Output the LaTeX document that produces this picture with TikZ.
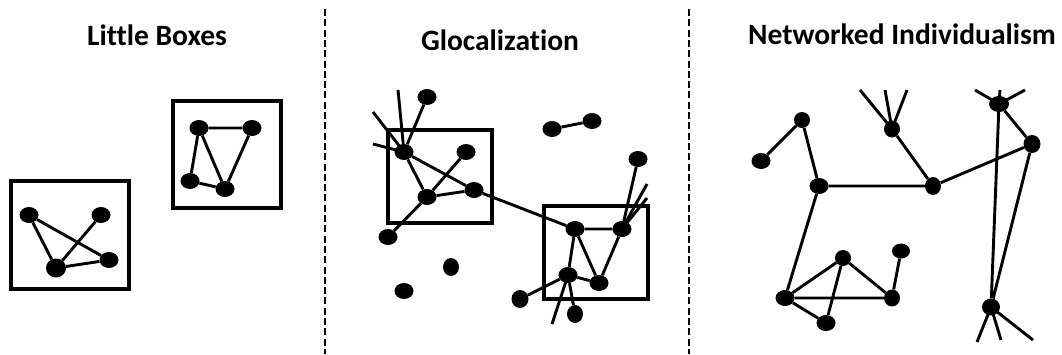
\documentclass[tikz,border=0pt]{standalone}
\usepackage{fontspec}
\setmainfont{Carlito}[Ligatures=NoCommon]
\usepackage{tikz}
\usetikzlibrary{shapes.geometric, positioning}
\tikzset{
    dotnode/.style = {draw=none, fill=black, ellipse, minimum width=19pt, minimum height=16pt, inner sep=0pt},
    boxnode/.style = {draw, rectangle, line width=3.3pt, inner sep=0pt, fill=none},
    titlenode/.style = {draw=none, fill=none, inner sep=0pt, anchor=base,
      font=\fontsize{29.5}{35}\selectfont\bfseries},
    connect/.style = {black, line width=2.9pt},
    divider/.style = {black, line width=2.2pt, dash pattern=on 7pt off 3.3pt}
}

\begin{document}
\begin{tikzpicture}[x=1pt, y=-1pt]
    \useasboundingbox (0,0) rectangle (1062,354);

    % titles and separators
    \node [name=tBoxes, titlenode] at (157,45) {Little Boxes};
    \node [name=tGlocal, titlenode] at (500,50) {Glocalization};
    \node [name=tNetInd, titlenode] at (902,44) {Networked Individualism};
    \coordinate (sepA top) at (325,9);   \coordinate (sepA bot) at (325,354);
    \coordinate (sepB top) at (689,9);   \coordinate (sepB bot) at (689,354);
    \draw [divider] (sepA top) -- (sepA bot);
    \draw [divider] (sepB top) -- (sepB bot);

    %% little boxes
    \node [name=boxL1, boxnode, minimum width=118pt, minimum height=108pt] at (70,235) {};
    \node [name=boxL2, boxnode, minimum width=108pt, minimum height=107pt] at (227,154.5) {};
    \node [name=a1, dotnode] at (29,215) {};
    \node [name=a2, dotnode] at (101,215) {};
    \node [name=a3, dotnode, minimum width=20pt, minimum height=19pt] at (56,268) {};
    \node [name=a4, dotnode] at (109,260) {};
    \node [name=b1, dotnode] at (199,128) {};
    \node [name=b2, dotnode] at (252,128) {};
    \node [name=b3, dotnode] at (190,181) {};
    \node [name=b4, dotnode] at (225,189) {};
    \draw [connect] (a1) -- (a3) -- (a4) -- (a1);
    \draw [connect] (a2) -- (a3);
    \draw [connect] (b1) -- (b2) -- (b4) -- (b3) -- (b1) -- (b4);

    %% glocalization
    \node [name=boxG1, boxnode, minimum width=104pt, minimum height=93pt] at (440,176.5) {};
    \node [name=boxG2, boxnode, minimum width=104pt, minimum height=93pt] at (596,252.5) {};
    \node [name=p1, dotnode] at (427,97) {};
    \node [name=p2, dotnode] at (404,152) {};
    \node [name=p3, dotnode] at (466,152) {};
    \node [name=p4, dotnode] at (427,197) {};
    \node [name=p5, dotnode] at (474,190) {};
    \node [name=p6, dotnode] at (388,237) {};
    \node [name=p7, dotnode, minimum width=16pt, minimum height=18pt] at (451,267) {};
    \node [name=p8, dotnode] at (404,291) {};
    \node [name=p9, dotnode] at (552,129) {};
    \node [name=p10, dotnode] at (592,121) {};
    \node [name=p11, dotnode] at (638,159) {};
    \node [name=q1, dotnode] at (575,229) {};
    \node [name=q2, dotnode] at (622,229) {};
    \node [name=q3, dotnode] at (568,275) {};
    \node [name=q4, dotnode] at (599,283) {};
    \node [name=q5, dotnode, minimum width=17pt, minimum height=18pt] at (520,299) {};
    \node [name=q6, dotnode, minimum width=16pt, minimum height=18pt] at (575,314) {};
    \coordinate (p2 out1) at (398,90);
    \coordinate (p2 out2) at (373,112);
    \coordinate (p2 out3) at (373,144);
    \coordinate (q2 out1) at (647,184);
    \coordinate (q2 out2) at (647,198);
    \coordinate (q3 out) at (552,324);
    \draw [connect] (p1) -- (p2) -- (p4) -- (p6);
    \draw [connect] (p2) -- (p5) -- (q1);
    \draw [connect] (p3) -- (p4) -- (p5);
    \draw [connect] (p2.center) -- (p2 out1);
    \draw [connect] (p2.center) -- (p2 out2);
    \draw [connect] (p2.center) -- (p2 out3);
    \draw [connect] (p9) -- (p10);
    \draw [connect] (q1) -- (q2) -- (q4) -- (q3) -- (q1) -- (q4);
    \draw [connect] (q2) -- (p11);
    \draw [connect] (q2.center) -- (q2 out1);
    \draw [connect] (q2.center) -- (q2 out2);
    \draw [connect] (q3) -- (q5);
    \draw [connect] (q3) -- (q6);
    \draw [connect] (q3.center) -- (q3 out);

    %% networked individualism
    \node [name=n1, dotnode] at (761,161) {};
    \node [name=n2, dotnode, minimum width=16pt] at (802,120) {};
    \node [name=n3, dotnode] at (819,186) {};
    \node [name=n4, dotnode, minimum width=16pt, minimum height=17pt] at (892,129) {};
    \node [name=n5, dotnode, minimum width=16pt, minimum height=18pt] at (933,186) {};
    \node [name=n6, dotnode, minimum width=20pt] at (999,104) {};
    \node [name=n7, dotnode, minimum width=17pt, minimum height=18pt] at (1032,144) {};
    \node [name=n8, dotnode, minimum width=16pt] at (843,258) {};
    \node [name=n9, dotnode, minimum width=18pt, minimum height=15pt] at (901,251) {};
    \node [name=n10, dotnode] at (785,298) {};
    \node [name=n11, dotnode, minimum width=16pt, minimum height=17pt] at (892,298) {};
    \node [name=n12, dotnode] at (826,323) {};
    \node [name=n13, dotnode, minimum width=18pt, minimum height=17pt] at (991,307) {};
    \coordinate (n4 out1) at (860,90);
    \coordinate (n4 out2) at (885,90);
    \coordinate (n4 out3) at (907,90);
    \coordinate (n6 out1) at (975,90);
    \coordinate (n6 out2) at (1000,90);
    \coordinate (n6 out3) at (1025,90);
    \coordinate (n13 out1) at (977,342);
    \coordinate (n13 out2) at (1001,340);
    \coordinate (n13 out3) at (1033,340);
    \draw [connect] (n1) -- (n2) -- (n3) -- (n5) -- (n7) -- (n6) -- (n13) -- (n7);
    \draw [connect] (n4) -- (n5);
    \draw [connect] (n3) -- (n10) -- (n11) -- (n8) -- (n10) -- (n12) -- (n8);
    \draw [connect] (n9) -- (n11);
    \foreach \k in {1,2,3} {
        \draw [connect] (n4.center) -- (n4 out\k);
        \draw [connect] (n6.center) -- (n6 out\k);
        \draw [connect] (n13.center) -- (n13 out\k);
    }
\end{tikzpicture}
\end{document}
